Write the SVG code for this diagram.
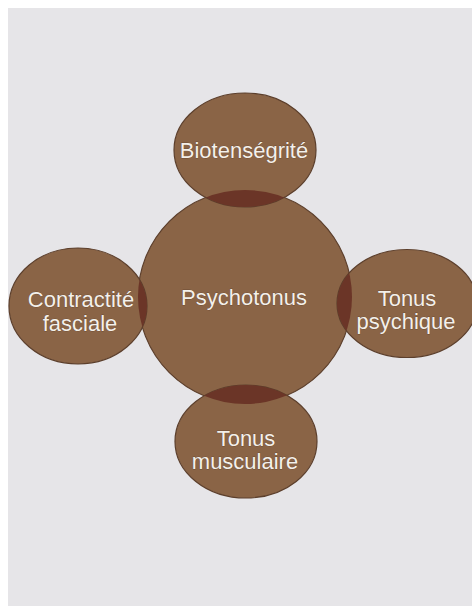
<svg xmlns="http://www.w3.org/2000/svg" width="472" height="606" viewBox="0 0 472 606">
  <defs>
    <style>
      .bubble { fill: #8a6446; stroke: #5c3f2c; stroke-width: 1.2; }
      .lens { fill: #6b3527; }
      .label { font-family: "Liberation Sans", Arial, sans-serif; font-size: 22px; fill: #f4f0ea; text-anchor: middle; stroke: #4a3222; stroke-width: 0.4; paint-order: stroke; }
    </style>
    <clipPath id="clip-top"><ellipse cx="245" cy="150" rx="71" ry="57"/></clipPath>
    <clipPath id="clip-bottom"><ellipse cx="246" cy="441.5" rx="71" ry="56.5"/></clipPath>
    <clipPath id="clip-left"><ellipse cx="78" cy="306" rx="69" ry="58"/></clipPath>
    <clipPath id="clip-right"><ellipse cx="407" cy="303.5" rx="70" ry="54"/></clipPath>
  </defs>

  <rect x="0" y="0" width="472" height="606" fill="#ffffff"/>
  <rect x="8" y="8" width="464" height="598" fill="#e6e5e8"/>

  <g id="node-psychotonus">
    <circle class="bubble" cx="245" cy="297" r="107"/>
  </g>

  <g id="node-biotensegrite">
    <ellipse class="bubble" cx="245" cy="150" rx="71" ry="57"/>
    <text class="label" x="244" y="158">Biotenségrité</text>
  </g>

  <g id="node-contractite">
    <ellipse class="bubble" cx="78" cy="306" rx="69" ry="58"/>
    <text class="label" x="81" y="307">Contractité</text>
    <text class="label" x="80" y="331">fasciale</text>
  </g>

  <g id="node-tonus-psychique">
    <ellipse class="bubble" cx="407" cy="303.5" rx="70" ry="54"/>
    <text class="label" x="407" y="306">Tonus</text>
    <text class="label" x="406" y="329">psychique</text>
  </g>

  <g id="node-tonus-musculaire">
    <ellipse class="bubble" cx="246" cy="441.5" rx="71" ry="56.5"/>
    <text class="label" x="246" y="446">Tonus</text>
    <text class="label" x="245" y="469">musculaire</text>
  </g>

  <g id="connectors">
    <circle class="lens" cx="245" cy="297" r="107" clip-path="url(#clip-top)"/>
    <circle class="lens" cx="245" cy="297" r="107" clip-path="url(#clip-bottom)"/>
    <circle class="lens" cx="245" cy="297" r="107" clip-path="url(#clip-left)"/>
    <circle class="lens" cx="245" cy="297" r="107" clip-path="url(#clip-right)"/>
  </g>

  <g id="center-label">
    <text class="label" x="244" y="305">Psychotonus</text>
  </g>
</svg>
